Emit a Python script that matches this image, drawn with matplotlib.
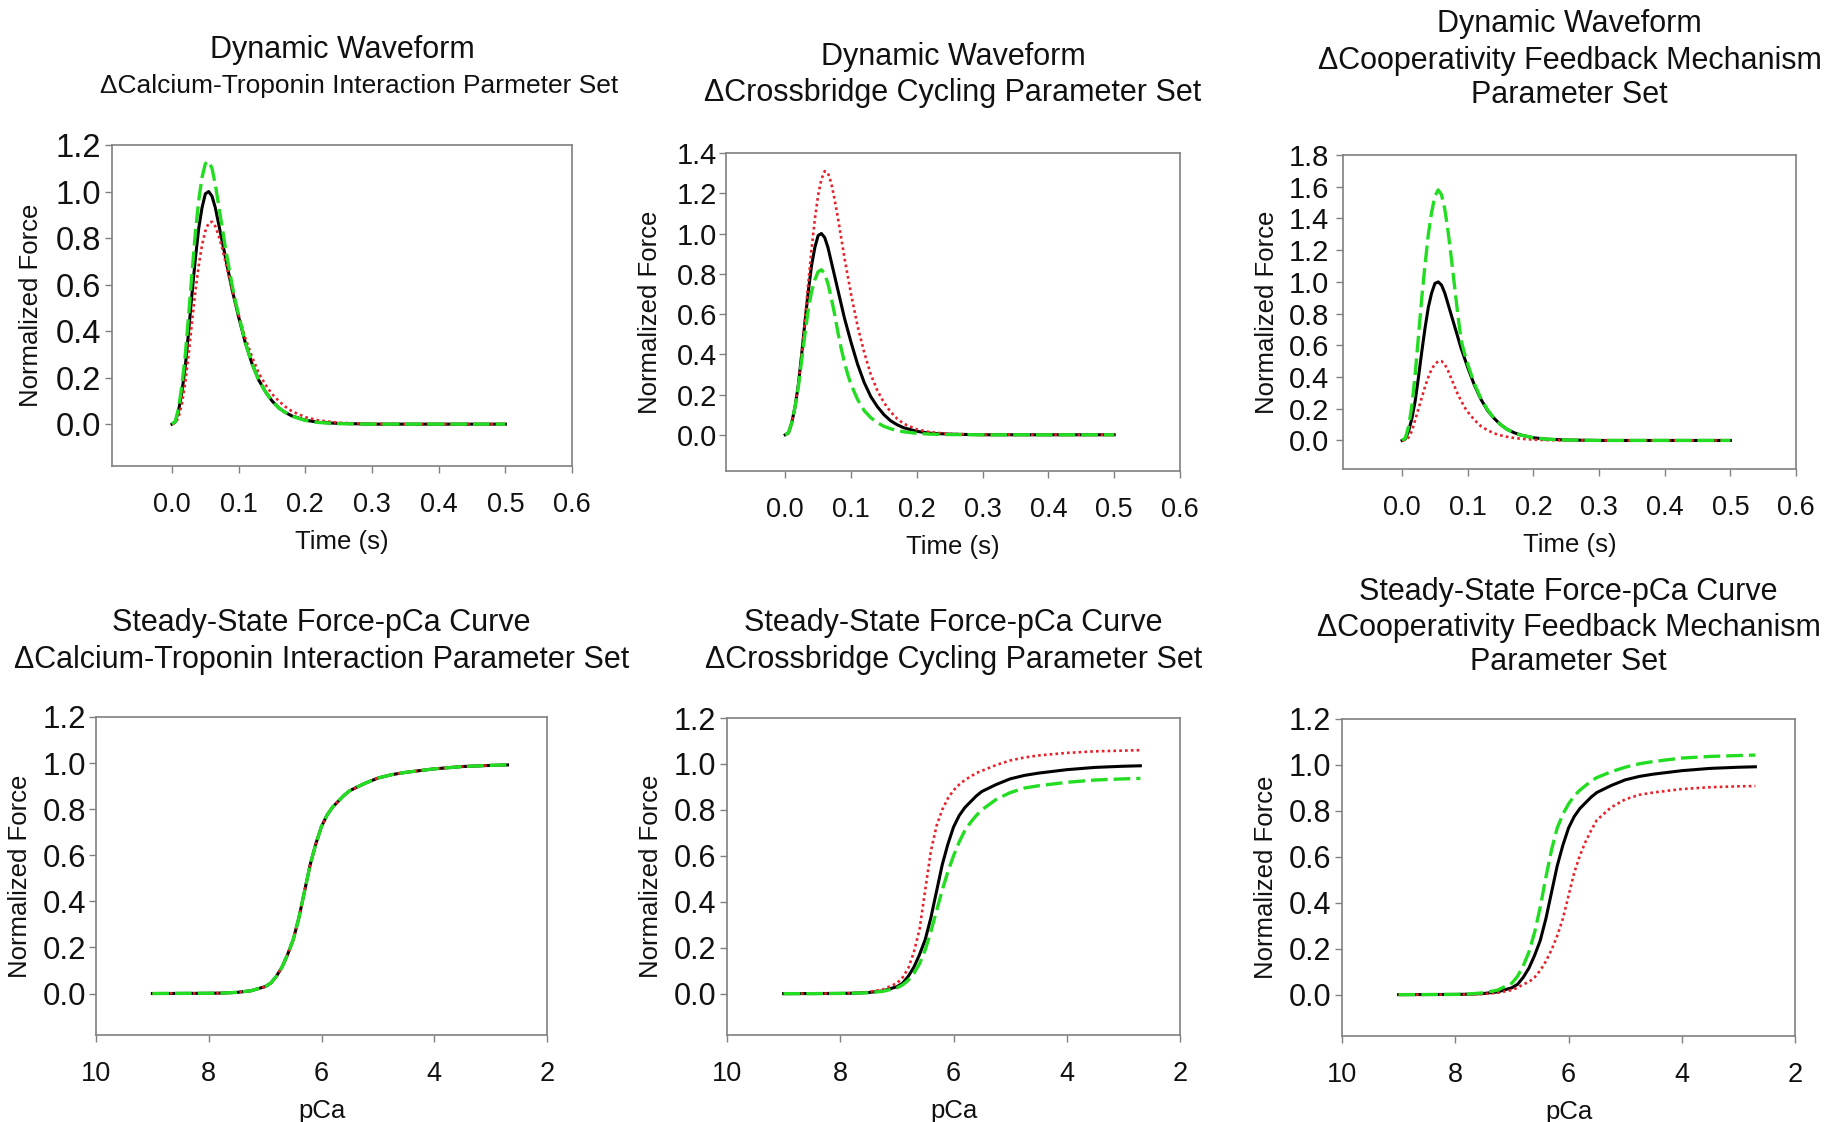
import matplotlib
matplotlib.use('Agg')
import matplotlib.pyplot as plt

plt.rcParams['font.family'] = ['Liberation Sans', 'DejaVu Sans']

# ---- dynamic waveforms: time (s) and normalized force ----
time_s = [0, 0.005, 0.01, 0.015, 0.02, 0.025, 0.03, 0.035, 0.04, 0.045, 0.05,
          0.055, 0.06, 0.065, 0.07, 0.075, 0.08, 0.085, 0.09, 0.095, 0.1,
          0.11, 0.12, 0.13, 0.14, 0.15, 0.16, 0.17, 0.18,
          0.2, 0.22, 0.25, 0.3, 0.35, 0.4, 0.45, 0.5]

dyn_control = [0, .01, .06, .14, .25, .40, .56, .71, .84, .93, .99,
               1.0, .98, .93, .86, .79, .72, .65, .58, .52, .46,
               .35, .26, .19, .14, .10, .07, .05, .035,
               .017, .008, .003, 0, 0, 0, 0, 0]

# calcium-troponin interaction set
dyn_ct_green = [0, .012, .07, .17, .30, .47, .65, .82, .96, 1.06, 1.12,
                1.13, 1.10, 1.03, .94, .85, .76, .68, .60, .53, .47,
                .35, .26, .19, .14, .10, .07, .05, .034,
                .016, .007, .002, 0, 0, 0, 0, 0]
dyn_ct_red = [0, .005, .03, .09, .18, .30, .44, .57, .68, .77, .83,
              .865, .87, .85, .81, .76, .70, .64, .58, .52, .47,
              .37, .29, .22, .17, .13, .10, .075, .055,
              .03, .016, .006, .001, 0, 0, 0, 0]

# crossbridge cycling set
dyn_cb_green = [0, .01, .06, .14, .24, .37, .50, .62, .71, .77, .81,
                .82, .80, .75, .68, .60, .51, .43, .36, .30, .25,
                .175, .12, .085, .06, .042, .03, .021, .015,
                .007, .003, .001, 0, 0, 0, 0, 0]
dyn_cb_red = [0, .01, .06, .14, .25, .40, .57, .75, .92, 1.07, 1.19,
              1.27, 1.31, 1.30, 1.25, 1.17, 1.08, .98, .88, .79, .70,
              .54, .41, .30, .22, .16, .115, .08, .055,
              .027, .013, .004, .001, 0, 0, 0, 0]

# cooperativity feedback set
dyn_coop_green = [0, .015, .09, .22, .42, .66, .90, 1.11, 1.30, 1.44, 1.54,
                  1.58, 1.55, 1.46, 1.32, 1.15, .97, .79, .63, .55, .48,
                  .36, .265, .195, .14, .10, .07, .05, .035,
                  .017, .008, .003, 0, 0, 0, 0, 0]
dyn_coop_red = [0, .003, .02, .06, .13, .20, .27, .34, .40, .45, .48,
                .50, .50, .48, .44, .39, .34, .29, .25, .21, .18,
                .13, .09, .065, .045, .032, .023, .016, .011,
                .005, .002, .001, 0, 0, 0, 0, 0]

# ---- steady-state force-pCa ----
pca = [9.0, 8.5, 8.0, 7.75, 7.5, 7.25, 7.0, 6.9, 6.8, 6.7, 6.6, 6.5, 6.4, 6.3,
       6.2, 6.1, 6.0, 5.9, 5.8, 5.7, 5.6, 5.5, 5.25, 5.0, 4.75, 4.5, 4.0, 3.5,
       3.0, 2.7]

ss_control = [0, .0005, .001, .002, .005, .012, .03, .045, .075, .115, .17,
              .235, .33, .445, .56, .65, .725, .775, .81, .835, .86, .88,
              .91, .935, .95, .96, .975, .985, .99, .992]

ss_ct_green = [0, .0005, .001, .002, .005, .012, .03, .045, .075, .115, .17,
               .235, .33, .445, .56, .65, .725, .775, .81, .835, .86, .88,
               .91, .935, .95, .96, .975, .985, .99, .992]
ss_ct_red = [0, .0005, .001, .002, .005, .012, .03, .045, .075, .115, .17,
             .235, .33, .445, .56, .65, .725, .775, .81, .835, .86, .88,
             .91, .935, .95, .96, .975, .985, .99, .992]

ss_cb_green = [0, 0, .001, .002, .004, .01, .025, .038, .058, .088, .13,
               .19, .27, .36, .45, .53, .60, .66, .71, .745, .775, .80,
               .845, .875, .895, .905, .92, .93, .935, .937]
ss_cb_red = [0, .0005, .001, .003, .007, .018, .045, .07, .11, .18, .28,
             .45, .62, .73, .80, .85, .885, .91, .93, .945, .96, .97,
             .995, 1.015, 1.028, 1.037, 1.048, 1.055, 1.058, 1.06]

ss_coop_green = [0, .0005, .001, .003, .008, .02, .05, .08, .125, .185, .27,
                 .38, .51, .63, .725, .785, .83, .865, .89, .91, .93, .945,
                 .97, .99, 1.005, 1.015, 1.03, 1.037, 1.041, 1.043]
ss_coop_red = [0, 0, .0005, .001, .003, .008, .02, .03, .045, .055, .075,
               .105, .145, .195, .255, .33, .43, .53, .605, .665, .715, .76,
               .815, .85, .87, .88, .895, .903, .907, .908]

W, H = 1837, 1122
fig = plt.figure(figsize=(W / 100, H / 100), dpi=100)


def px_axes(l, t, r, b):
    return fig.add_axes([l / W, 1 - b / H, (r - l) / W, (b - t) / H])


def fig_text(x, y, s, **kw):
    fig.text(x / W, 1 - y / H, s, **kw)


# title lines: (text, font size, centre y in px, x shift in px)
panels = [
    dict(box=(112, 145, 572, 466), x=time_s, k=dyn_control, r=dyn_ct_red, g=dyn_ct_green,
         ymax=1.2, kind='dyn', ysize=23.5, ypad=3, ylab=81,
         title=[('Dynamic Waveform', 22, 50, 0),
                ('\u0394Calcium-Troponin Interaction Parmeter Set', 19, 86, 17)]),
    dict(box=(726, 153, 1180, 471), x=time_s, k=dyn_control, r=dyn_cb_red, g=dyn_cb_green,
         ymax=1.4, kind='dyn', ysize=21, ypad=1.5, ylab=76,
         title=[('Dynamic Waveform', 22, 57, 0), ('\u0394Crossbridge Cycling Parameter Set', 22, 93, 0)]),
    dict(box=(1343, 155, 1796, 469), x=time_s, k=dyn_control, r=dyn_coop_red, g=dyn_coop_green,
         ymax=1.8, kind='dyn', ysize=21, ypad=5, ylab=76,
         title=[('Dynamic Waveform', 22, 24, 0), ('\u0394Cooperativity Feedback Mechanism', 22, 61, 0),
                ('Parameter Set', 22, 95, 0)]),
    dict(box=(96, 717, 547, 1035), x=pca, k=ss_control, r=ss_ct_red, g=ss_ct_green,
         ymax=1.2, kind='ss', ysize=22.5, ypad=2, ylab=76,
         title=[('Steady-State Force-pCa Curve', 22, 623, 0),
                ('\u0394Calcium-Troponin Interaction Parameter Set', 22, 660, 0)]),
    dict(box=(727, 718, 1180, 1035), x=pca, k=ss_control, r=ss_cb_red, g=ss_cb_green,
         ymax=1.2, kind='ss', ysize=22, ypad=3, ylab=76,
         title=[('Steady-State Force-pCa Curve', 22, 623, 0),
                ('\u0394Crossbridge Cycling Parameter Set', 22, 660, 0)]),
    dict(box=(1342, 719, 1795, 1036), x=pca, k=ss_control, r=ss_coop_red, g=ss_coop_green,
         ymax=1.2, kind='ss', ysize=22, ypad=3, ylab=76,
         title=[('Steady-State Force-pCa Curve', 22, 592, 0), ('\u0394Cooperativity Feedback Mechanism', 22, 628, 0),
                ('Parameter Set', 22, 662, 0)]),
]

for p in panels:
    l, t, r, b = p['box']
    ax = px_axes(l, t, r, b)
    ax.plot(p['x'], p['k'], color='black', lw=2.2)
    ax.plot(p['x'], p['r'], color='#e8202a', lw=1.9, linestyle=(0, (1, 1.2)))
    ax.plot(p['x'], p['g'], color='#22dd22', lw=2.4, linestyle=(0, (5, 1.8)))

    ax.set_ylim(-0.18, p['ymax'])
    yt = [round(0.2 * i, 1) for i in range(int(round(p['ymax'] / 0.2)) + 1)]
    ax.set_yticks(yt)
    ax.set_yticklabels(['%.1f' % v for v in yt])
    if p['kind'] == 'dyn':
        ax.set_xlim(-0.09, 0.6)
        xt = [0.0, 0.1, 0.2, 0.3, 0.4, 0.5, 0.6]
        ax.set_xticks(xt)
        ax.set_xticklabels(['%.1f' % v for v in xt])
        xlabel = 'Time (s)'
    else:
        ax.set_xlim(10, 2)
        ax.set_xticks([10, 8, 6, 4, 2])
        xlabel = 'pCa'

    for s in ax.spines.values():
        s.set_color('#808080')
        s.set_linewidth(1.2)
    ax.tick_params(direction='out', length=5, width=1, color='#808080', labelcolor='#111111')
    ax.tick_params(axis='x', pad=14, labelsize=19.5)
    ax.tick_params(axis='y', pad=p['ypad'], labelsize=p['ysize'])

    fig_text((l + r) / 2, b + 76, xlabel, ha='center', va='center', fontsize=18.5, color='#111111')
    fig_text(l - p['ylab'], (t + b) / 2, 'Normalized Force', ha='center', va='center',
             rotation=90, fontsize=18.5, color='#111111')
    for txt, size, y, dx in p['title']:
        fig_text((l + r) / 2 + dx, y, txt, ha='center', va='center', fontsize=size, color='#111111')

fig.savefig('out.png', dpi=100)
